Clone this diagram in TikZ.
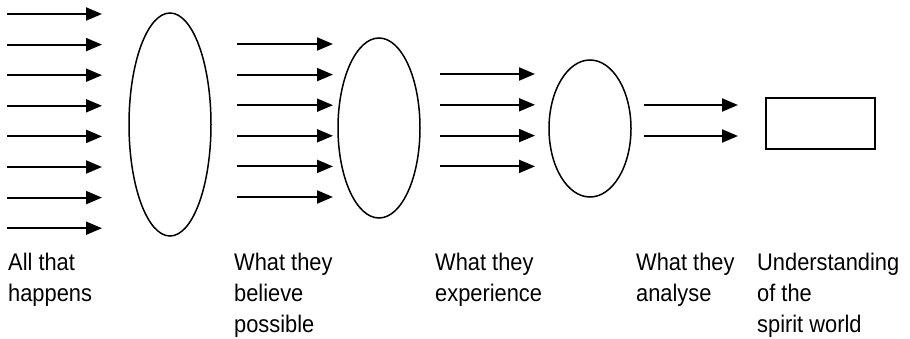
\documentclass[tikz,border=0pt]{standalone}
\usepackage{fontspec}
\setmainfont{Liberation Sans}[FakeStretch=0.91]
\usetikzlibrary{arrows.meta,shapes.geometric}

\tikzset{
    flow/.style={line width=2pt, -{Triangle[length=16pt,width=13pt]}},
    filter/.style={draw, ellipse, line width=1.5pt, inner sep=0pt},
    lbl/.style={anchor=north west, inner sep=0pt, align=left, font=\fontsize{24}{31}\selectfont}
}

\begin{document}
\begin{tikzpicture}[x=1pt, y=-1pt]
    \useasboundingbox (0,0) rectangle (910,339);
    \node[filter, minimum width=82pt, minimum height=223pt] (F1) at (170,124.5) {};
    \node[filter, minimum width=82pt, minimum height=180pt] (F2) at (379,128) {};
    \node[filter, minimum width=82pt, minimum height=137pt] (F3) at (590,128.5) {};
    \node[draw, line width=1.5pt, minimum width=109pt, minimum height=51pt, inner sep=0pt] (world) at (820.5,123.5) {};
    \foreach \i in {0,...,7} {\coordinate (a\i) at (7,{14+30.6*\i}); \draw[flow] (a\i) -- ++(95,0);}
    \foreach \i in {0,...,5} {\coordinate (b\i) at (237,{44+30.6*\i}); \draw[flow] (b\i) -- ++(96,0);}
    \foreach \i in {0,...,3} {\coordinate (c\i) at (440,{74+30.8*\i}); \draw[flow] (c\i) -- ++(95,0);}
    \foreach \i in {0,1} {\coordinate (d\i) at (644,{105+31*\i}); \draw[flow] (d\i) -- ++(94,0);}
    \node[lbl] (all) at (8,253) {All that\\happens};
    \node[lbl] (believe) at (234,253) {What they\\believe\\possible};
    \node[lbl] (experience) at (435,253) {What they\\experience};
    \node[lbl] (analyse) at (636,253) {What they\\analyse};
    \node[lbl] (understand) at (757,253) {Understanding\\of the\\spirit world};
\end{tikzpicture}
\end{document}
